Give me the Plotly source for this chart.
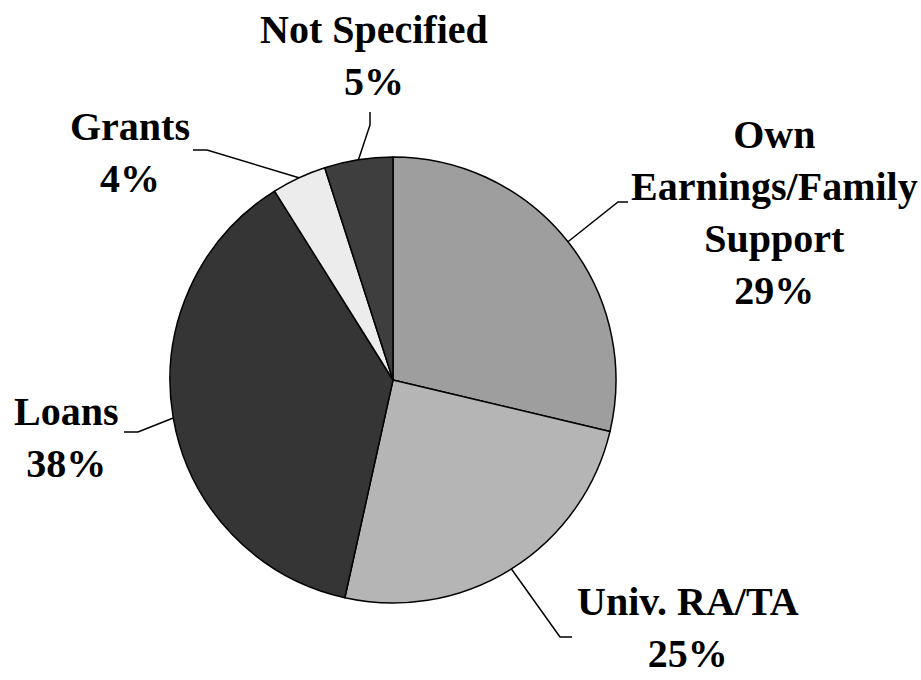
import math
import plotly.graph_objects as go

W, H = 921, 680

# data
labels = ["Own Earnings/Family Support", "Univ. RA/TA", "Loans", "Grants", "Not Specified"]
values = [29, 25, 38, 4, 5]
label_text = ["Own<br>Earnings/Family<br>Support<br>29%", "Univ. RA/TA<br>25%",
              "Loans<br>38%", "Grants<br>4%", "Not Specified<br>5%"]
colors = ["#9e9e9e", "#b5b5b5", "#353535", "#ececec", "#3e3e3e"]

# pie geometry (pixels)
CX, CY, R = 393, 380, 223

# label centres and leader elbows (pixels): (text x, text y, elbow pts)
label_pos = [
    (774, 212, [(628, 202), (618, 202)]),
    (688, 627, [(572, 637), (560, 637)]),
    (66, 437, [(124, 432), (138, 432)]),
    (130, 152, [(193, 150), (207, 150)]),
    (374, 55, [(370, 112), (370, 125)]),
]


def px(x, y):
    return x / W, 1 - y / H


fig = go.Figure(go.Pie(
    labels=labels, values=values, sort=False, direction="clockwise", rotation=0,
    marker=dict(colors=colors, line=dict(color="#000000", width=1.5)),
    textinfo="none", hoverinfo="label+percent", showlegend=False,
    domain=dict(x=[(CX - R) / W, (CX + R) / W], y=[1 - (CY + R) / H, 1 - (CY - R) / H]),
))

total = sum(values)
cum = 0
for v, txt, (tx, ty, elbow) in zip(values, label_text, label_pos):
    mid = (cum + v / 2) / total * 2 * math.pi
    cum += v
    ex, ey = CX + R * math.sin(mid), CY - R * math.cos(mid)
    pts = elbow + [(ex, ey)]
    path = "M " + " L ".join(f"{px(x, y)[0]},{px(x, y)[1]}" for x, y in pts)
    fig.add_shape(type="path", path=path, xref="paper", yref="paper",
                  line=dict(color="#000000", width=1.5))
    ax, ay = px(tx, ty)
    fig.add_annotation(x=ax, y=ay, xref="paper", yref="paper", text=f"<b>{txt}</b>",
                       showarrow=False, xanchor="center", yanchor="middle",
                       font=dict(family="Liberation Serif, Times New Roman, serif",
                                 size=40, color="#000000"))

fig.update_layout(
    width=W, height=H, margin=dict(l=0, r=0, t=0, b=0),
    paper_bgcolor="#ffffff", plot_bgcolor="#ffffff",
)
fig.write_html("out.html", config={"displayModeBar": False},
               post_script="document.body.style.margin='0';document.body.style.overflow='hidden';")
